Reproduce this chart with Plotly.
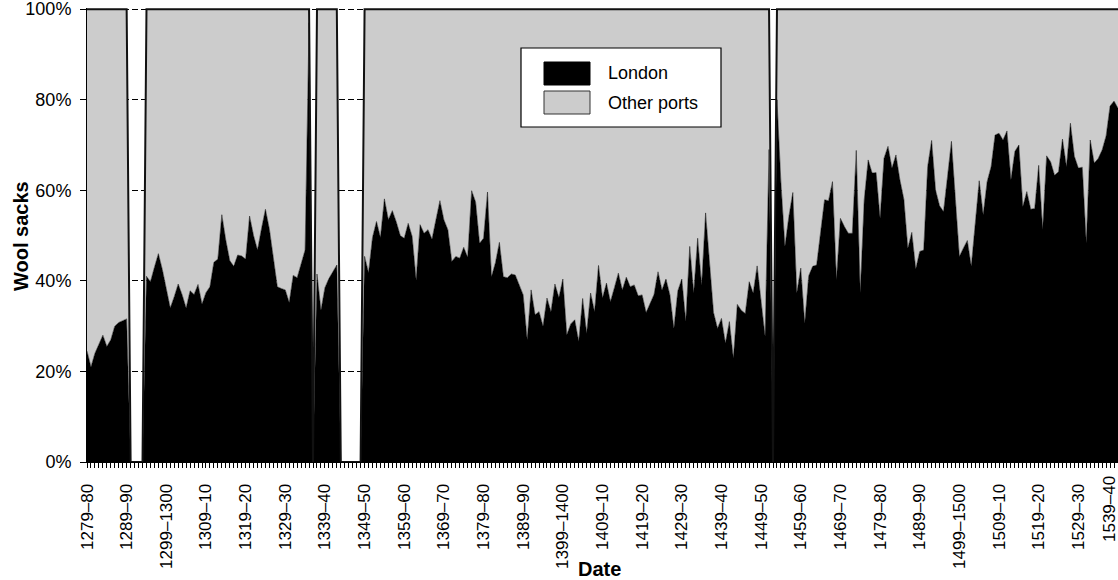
import plotly.graph_objects as go

# ---- data -------------------------------------------------------------
start_years = list(range(1279, 1540))  # 1279-80 ... 1539-40 (261 accounting years)

# London's share of wool sacks exported (%), 0 where no records survive
london_pct = [
    24.5, 21.0, 24.0, 26.0, 28.0, 25.5, 27.0, 30.0, 30.8, 31.2,   # 1279-
    31.6, 0, 0, 0, 0, 41.0, 39.8, 43.0, 46.0, 42.5,               # 1289-
    38.0, 34.0, 36.5, 39.3, 36.9, 34.0, 37.8, 37.0, 39.2, 34.9,   # 1299-
    37.4, 38.7, 44.1, 44.8, 54.6, 49.0, 44.5, 43.2, 45.7, 45.5,   # 1309-
    44.8, 54.3, 50.0, 46.8, 51.5, 55.8, 51.4, 45.0, 38.7, 38.3,   # 1319-
    38.0, 35.2, 41.2, 40.7, 43.5, 46.8, 97.0, 0, 41.5, 33.5,      # 1329-
    38.5, 40.5, 42.0, 43.5, 0, 0, 0, 0, 0, 0,                     # 1339-
    45.4, 41.8, 49.6, 53.1, 49.6, 58.1, 53.5, 55.5, 53.0, 50.0,   # 1349-
    49.4, 52.7, 49.8, 40.2, 52.4, 50.5, 51.3, 49.2, 53.5, 57.7,   # 1359-
    53.5, 51.3, 44.3, 45.4, 45.0, 47.4, 45.2, 59.9, 57.4, 48.3,   # 1369-
    49.4, 59.6, 40.9, 44.0, 48.5, 40.9, 40.7, 41.5, 41.3, 39.0,   # 1379-
    36.9, 27.0, 38.0, 32.5, 33.2, 30.0, 36.2, 33.2, 39.3, 36.3,   # 1389-
    40.4, 28.1, 30.5, 31.4, 26.6, 36.1, 28.4, 37.3, 33.2, 43.4,   # 1399-
    36.2, 39.5, 35.4, 38.5, 41.7, 38.0, 40.8, 38.7, 39.1, 36.7,   # 1409-
    36.9, 33.0, 35.1, 37.0, 42.0, 38.0, 40.4, 36.9, 29.5, 37.8,   # 1419-
    40.4, 31.0, 47.6, 37.3, 49.4, 39.0, 55.0, 44.0, 33.0, 29.5,   # 1429-
    31.7, 26.2, 31.0, 22.9, 34.8, 33.5, 32.8, 39.8, 37.3, 43.3,   # 1439-
    36.0, 27.7, 69.0, 0, 80.0, 61.6, 47.6, 54.2, 59.5, 37.3,      # 1449-
    42.8, 30.6, 41.1, 43.2, 43.5, 51.3, 57.9, 57.7, 61.9, 40.2,   # 1459-
    53.8, 52.0, 50.5, 50.5, 68.8, 37.3, 57.9, 66.7, 63.8, 63.9,   # 1469-
    53.8, 67.1, 69.7, 64.9, 67.8, 62.3, 58.0, 47.2, 50.7, 42.6,   # 1479-
    46.5, 46.8, 65.2, 71.0, 60.0, 56.6, 55.3, 63.0, 70.8, 58.0,   # 1489-
    45.4, 47.2, 48.9, 43.2, 52.0, 62.1, 54.6, 61.9, 65.2, 72.2,   # 1499-
    72.6, 71.1, 73.1, 62.3, 68.6, 70.0, 56.4, 59.7, 55.8, 56.0,   # 1509-
    65.5, 51.3, 67.6, 66.3, 63.3, 64.1, 71.3, 65.2, 74.8, 67.5,   # 1519-
    64.9, 65.1, 48.3, 71.1, 66.0, 67.0, 68.9, 72.0, 78.6, 79.7,   # 1529-
    78.1,                                                         # 1539-40
]
# other ports take the remainder of each 100% column (0 where no records)
other_pct = [0 if v == 0 else round(100 - v, 1) for v in london_pct]

tick_years = [1279, 1289, 1299, 1309, 1319, 1329, 1339, 1349, 1359, 1369,
              1379, 1389, 1399, 1409, 1419, 1429, 1439, 1449, 1459, 1469,
              1479, 1489, 1499, 1509, 1519, 1529, 1539]
tick_labels = ["1279–80", "1289–90", "1299–1300", "1309–10", "1319–20",
               "1329–30", "1339–40", "1349–50", "1359–60", "1369–70",
               "1379–80", "1389–90", "1399–1400", "1409–10", "1419–20",
               "1429–30", "1439–40", "1449–50", "1459–60", "1469–70",
               "1479–80", "1489–90", "1499–1500", "1509–10", "1519–20",
               "1529–30", "1539–40"]

series_names = ["London", "Other ports"]

# ---- figure -----------------------------------------------------------
FONT = "Liberation Sans, Arial, sans-serif"
GREY = "#cccccc"
XTICK_SIZE = 17

fig = go.Figure()
fig.add_trace(go.Scatter(
    x=start_years, y=london_pct, name=series_names[0], mode="lines",
    stackgroup="one", fillcolor="#000000",
    line=dict(color="#000000", width=0.5), showlegend=False,
))
fig.add_trace(go.Scatter(
    x=start_years, y=other_pct, name=series_names[1], mode="lines",
    stackgroup="one", fillcolor=GREY,
    line=dict(color="#111111", width=2), showlegend=False,
))

W, H = 1118, 580
L, R, T, B = 87, 0, 8, 118
pw, ph = W - L - R, H - T - B


def px(x):
    return (x - L) / pw


def py(y):
    return (H - B - y) / ph


# the last label sits at the right edge of the chart: it is nudged inward
# (as in the original) and drawn as a rotated text, the rest are tick labels
shown_ticktext = tick_labels[:-1] + [""]

fig.update_layout(
    width=W, height=H,
    margin=dict(l=L, r=R, t=T, b=B, pad=0, autoexpand=False),
    paper_bgcolor="white", plot_bgcolor="white",
    font=dict(family=FONT, size=18, color="#000000"),
    showlegend=False,
    xaxis=dict(
        range=[start_years[0], start_years[-1]], automargin=False,
        tickmode="array", tickvals=tick_years, ticktext=shown_ticktext,
        tickangle=-90, ticks="outside", ticklen=5, tickwidth=1,
        tickcolor="#000000", showgrid=False, zeroline=False,
        showline=True, linecolor="#000000", linewidth=1,
        ticklabeloverflow="allow", ticklabelstandoff=9,
        tickfont=dict(family=FONT, size=XTICK_SIZE, color="#000000"),
        minor=dict(tickmode="linear", tick0=start_years[0], dtick=1,
                   ticks="outside", ticklen=5, tickwidth=1,
                   tickcolor="#000000", showgrid=False),
    ),
    yaxis=dict(
        range=[0, 100.25], automargin=False,
        tickmode="linear", tick0=0, dtick=20,
        ticksuffix="%", ticks="outside", ticklen=6, tickwidth=1,
        tickcolor="#000000", showgrid=True, gridcolor="#000000",
        gridwidth=1, griddash="6px,3px", zeroline=False,
        showline=True, linecolor="#000000", linewidth=1,
        ticklabeloverflow="allow", ticklabelstandoff=5,
        tickfont=dict(family=FONT, size=18, color="#000000"),
    ),
)

# custom legend box (matches the framed legend of the original)
shapes = [
    dict(type="rect", xref="paper", yref="paper",
         x0=px(521), x1=px(721), y0=py(127), y1=py(48),
         fillcolor="white", line=dict(color="#000000", width=1.2)),
    dict(type="rect", xref="paper", yref="paper",
         x0=px(544), x1=px(590), y0=py(85), y1=py(62),
         fillcolor="#000000", line=dict(color="#000000", width=1)),
    dict(type="rect", xref="paper", yref="paper",
         x0=px(544), x1=px(590), y0=py(114), y1=py(91),
         fillcolor=GREY, line=dict(color="#333333", width=1)),
]
fig.update_layout(shapes=shapes)

annotations = [
    dict(text=series_names[0], x=px(606), y=py(73.5), xref="paper", yref="paper",
         xanchor="left", yanchor="middle", showarrow=False,
         font=dict(family=FONT, size=18, color="#000000")),
    dict(text=series_names[1], x=px(606), y=py(103), xref="paper", yref="paper",
         xanchor="left", yanchor="middle", showarrow=False,
         font=dict(family=FONT, size=18, color="#000000")),
    dict(text=tick_labels[-1], x=px(1109), y=py(474), xref="paper", yref="paper",
         xanchor="center", yanchor="top", textangle=-90, showarrow=False,
         font=dict(family=FONT, size=XTICK_SIZE, color="#000000")),
    dict(text="<b>Wool sacks</b>", x=px(21), y=py(236), xref="paper", yref="paper",
         xanchor="center", yanchor="middle", textangle=-90, showarrow=False,
         font=dict(family=FONT, size=20, color="#000000")),
    dict(text="<b>Date</b>", x=px(599), y=py(569), xref="paper", yref="paper",
         xanchor="center", yanchor="middle", showarrow=False,
         font=dict(family=FONT, size=20, color="#000000")),
]
fig.update_layout(annotations=annotations)

fig.write_html(
    "out.html",
    config={"displayModeBar": False},
    post_script="document.body.style.margin='0';document.body.style.overflow='hidden';",
)
